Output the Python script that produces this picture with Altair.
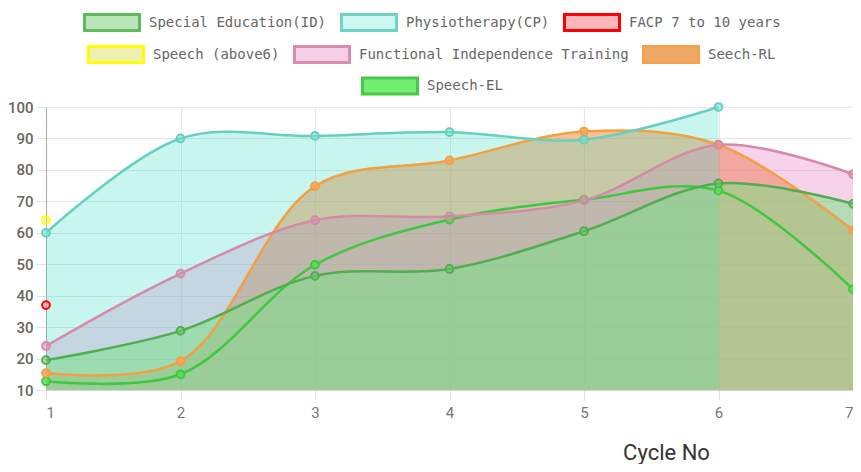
import altair as alt
import pandas as pd

# ---------------- data ----------------
cycles = [1, 2, 3, 4, 5, 6, 7]
series_names = [
    "Special Education(ID)",
    "Physiotherapy(CP)",
    "FACP 7 to 10 years",
    "Speech (above6)",
    "Functional Independence Training",
    "Seech-RL",
    "Speech-EL",
]
special_education = [19.5, 28.8, 46.3, 48.5, 60.5, 75.7, 69.2]
physiotherapy = [60, 90, 90.8, 92, 89.6, 100, None]
facp = [37, None, None, None, None, None, None]
speech_above6 = [64, None, None, None, None, None, None]
functional_independence = [24, 47, 64, 65.2, 70.3, 88, 78.6]
seech_rl = [15.4, 19.2, 74.8, 83, 92.2, 88, 60.8]
speech_el = [12.8, 15, 49.8, 64.2, 70.5, 73.4, 42]

series_values = [special_education, physiotherapy, facp, speech_above6,
                 functional_independence, seech_rl, speech_el]

rows = []
for name, vals in zip(series_names, series_values):
    for c, v in zip(cycles, vals):
        if v is not None:
            rows.append({"series": name, "cycle": c, "value": v})
df = pd.DataFrame(rows)

# ---------------- styles ----------------
area_fill = {
    "Special Education(ID)": "rgba(115,228,130,0.5)",
    "Physiotherapy(CP)": "rgba(75,222,202,0.30)",
    "Functional Independence Training": "rgba(230,110,190,0.30)",
    "Seech-RL": "rgba(243,129,43,0.50)",
}
line_stroke = {
    "Special Education(ID)": "#52ad52",
    "Physiotherapy(CP)": "#66cfc0",
    "FACP 7 to 10 years": "#ff0000",
    "Speech (above6)": "#ffff00",
    "Functional Independence Training": "#d68aa8",
    "Seech-RL": "#f3a043",
    "Speech-EL": "#3fc83f",
}
point_fill = {
    "Special Education(ID)": "rgba(100,200,100,0.55)",
    "Physiotherapy(CP)": "rgba(120,225,210,0.55)",
    "FACP 7 to 10 years": "rgba(255,120,130,0.45)",
    "Speech (above6)": "rgba(230,230,120,0.45)",
    "Functional Independence Training": "rgba(220,140,180,0.55)",
    "Seech-RL": "rgba(245,165,90,0.85)",
    "Speech-EL": "rgba(90,225,90,0.85)",
}
legend_fill = ["#b9e6b9", "#cdf7f0", "#ffb6b9", "#efefaf", "#f5cfe9", "#f0a868", "#73ee73"]
legend_stroke = ["#62b962", "#6dd3c4", "#ff0000", "#ffff00", "#da8cab", "#f5a34a", "#48c848"]

FONT_MONO = "DejaVu Sans Mono"

X = alt.X(
    "cycle:Q",
    scale=alt.Scale(domain=[1, 7], nice=False, zero=False),
    axis=alt.Axis(
        values=cycles, format="d", title="Cycle No",
        grid=True, gridColor="#e6e6e6", tickColor="#e0e0e0", tickSize=10,
        domainColor="#d5d5d5", labelFont="Roboto", labelFontSize=15,
        labelColor="#777", labelPadding=5,
        titleFont="Roboto", titleFontSize=22, titleFontWeight="normal",
        titleColor="#333", titleX=620, titleY=69, titleAlign="center",
        titleBaseline="alphabetic", titleAnchor="start",
    ),
)
Y = alt.Y(
    "value:Q",
    scale=alt.Scale(domain=[10, 100], nice=False, zero=False),
    axis=alt.Axis(
        values=list(range(10, 101, 10)), title=None,
        grid=True, gridColor="#e6e6e6", tickColor="#e0e0e0", tickSize=10,
        domainColor="#a8a8a8", labelFont="Roboto", labelFontSize=15,
        labelColor="#666", labelFontWeight=500, labelPadding=3,
    ),
)

base = alt.Chart(df)
layers = []

# area fills (drawn bottom to top, first dataset on top)
for s in ["Seech-RL", "Functional Independence Training", "Physiotherapy(CP)", "Special Education(ID)"]:
    layers.append(
        base.transform_filter(alt.datum.series == s)
        .mark_area(interpolate="catmull-rom", fill=area_fill[s], strokeWidth=0)
        .encode(x=X, y=Y, y2=alt.datum(10))
    )

draw_order = list(reversed(series_names))
for s in draw_order:
    if s in ("FACP 7 to 10 years", "Speech (above6)"):
        continue
    layers.append(
        base.transform_filter(alt.datum.series == s)
        .mark_line(interpolate="catmull-rom", stroke=line_stroke[s], strokeWidth=2.5)
        .encode(x=X, y=Y)
    )
for s in draw_order:
    layers.append(
        base.transform_filter(alt.datum.series == s)
        .mark_point(shape="circle", filled=True, fill=point_fill[s],
                    stroke=line_stroke[s], strokeWidth=2, size=60, opacity=1)
        .encode(x=X, y=Y)
    )

# legends, three centred rows
BOX = "M-1,-0.29L1,-0.29L1,0.29L-1,0.29Z"
leg_fill_scale = alt.Scale(domain=series_names, range=legend_fill)
leg_stroke_scale = alt.Scale(domain=series_names, range=legend_stroke)


def legend_layer(vals, lx, ly):
    lg = alt.Legend(
        title=None, values=vals, orient="none", legendX=lx, legendY=ly,
        direction="horizontal", symbolType=BOX, symbolSize=3025,
        symbolStrokeWidth=3, symbolOpacity=1, labelFont=FONT_MONO,
        labelFontSize=14, labelColor="#666", labelOffset=8,
        columnPadding=8, padding=0, labelLimit=500,
    )
    return base.mark_point(opacity=0).encode(
        x=X, y=Y,
        fill=alt.Fill("series:N", scale=leg_fill_scale, legend=lg),
        stroke=alt.Stroke("series:N", scale=leg_stroke_scale, legend=lg),
    )


layers.append(legend_layer(series_names[0:3], 37, -113.5))
layers.append(legend_layer(series_names[3:6], 41, -81.5))
layers.append(legend_layer(series_names[6:7], 315, -50))

chart = (
    alt.layer(*layers)
    .resolve_scale(fill="independent", stroke="independent")
    .properties(
        width=807, height=283,
        autosize=alt.AutoSizeParams(type="none"),
        padding={"left": 38, "top": 99, "right": 0, "bottom": 74},
    )
    .configure_view(stroke="#e6e6e6")
)

chart.save("out.html", embed_options={"renderer": "svg", "actions": False})
